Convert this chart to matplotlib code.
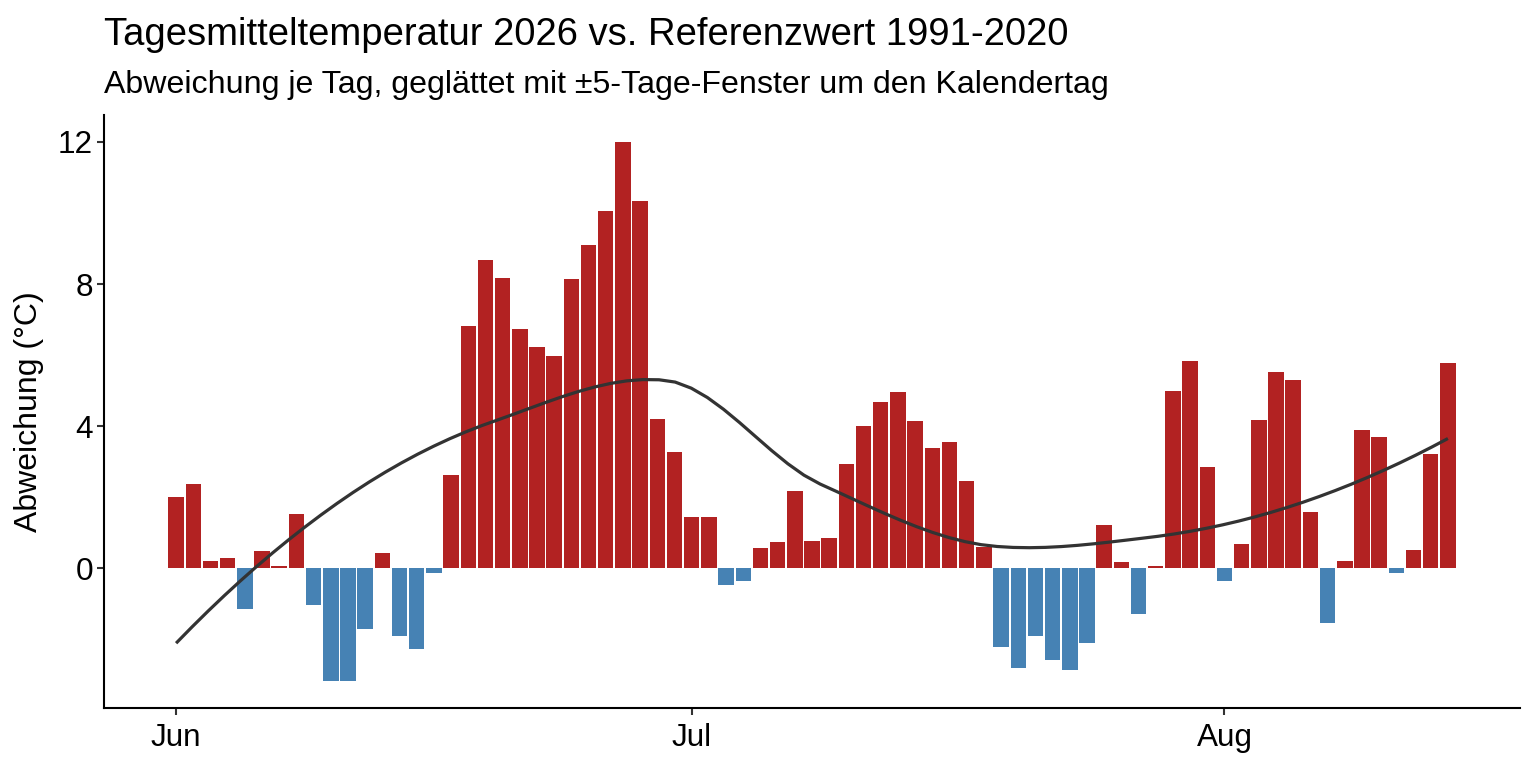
import numpy as np
import pandas as pd
import matplotlib
matplotlib.use("Agg")
import matplotlib.pyplot as plt
import matplotlib.dates as mdates

# ---- data ----
start_date = "2026-06-01"
anomaly_jun = [2.0, 2.36, 0.20, 0.28, -1.15, 0.48, 0.05, 1.52, -1.03, -3.18,
               -3.18, -1.71, 0.43, -1.91, -2.27, -0.14, 2.61, 6.81, 8.68, 8.17,
               6.73, 6.22, 5.97, 8.14, 9.09, 10.05, 12.0, 10.33, 4.20, 3.26]
anomaly_jul = [1.44, 1.44, -0.48, -0.36, 0.56, 0.73, 2.17, 0.76, 0.84, 2.93,
               4.0, 4.68, 4.96, 4.14, 3.38, 3.55, 2.45, 0.6, -2.22, -2.80,
               -1.91, -2.58, -2.86, -2.10, 1.21, 0.17, -1.28, 0.05, 4.98, 5.83,
               2.84]
anomaly_aug = [-0.36, 0.68, 4.17, 5.52, 5.29, 1.57, -1.55, 0.20, 3.89, 3.69,
               -0.14, 0.51, 3.21, 5.77]
y_ticks = [0, 4, 8, 12]

title = "Tagesmitteltemperatur 2026 vs. Referenzwert 1991-2020"
subtitle = "Abweichung je Tag, geglättet mit ±5-Tage-Fenster um den Kalendertag"
y_label = "Abweichung (°C)"

values = np.array(anomaly_jun + anomaly_jul + anomaly_aug)
dates = pd.date_range(start_date, periods=len(values), freq="D")
xnum = mdates.date2num(dates)


# ---- loess smoother (degree 2, span 0.75, kd-tree + Hermite interpolation) ----
def local_fit(x, y, x0, q):
    d = np.abs(x - x0)
    h = np.sort(d)[q - 1]
    w = np.clip(1 - (d / h) ** 3, 0, None) ** 3
    X = np.vstack([np.ones(len(x)), x - x0, (x - x0) ** 2]).T
    sw = np.sqrt(w)
    beta = np.linalg.lstsq(X * sw[:, None], y * sw, rcond=None)[0]
    return beta[0], beta[1]


def loess_interp(x, y, xs, span=0.75, cell=0.2):
    n = len(x)
    q = int(np.floor(n * span))
    fc = int(np.floor(n * span * cell))
    xsrt = np.sort(x)
    mu = 0.005 * (xsrt[-1] - xsrt[0])
    verts = {xsrt[0] - mu, xsrt[-1] + mu}

    def split(lo, hi):  # indices inclusive, 0-based
        if hi - lo + 1 <= fc:
            return
        m = (lo + hi) // 2
        verts.add((xsrt[m] + xsrt[m + 1]) / 2)
        split(lo, m)
        split(m + 1, hi)

    split(0, n - 1)
    vx = np.array(sorted(verts))
    vv = np.array([local_fit(x, y, v, q) for v in vx])
    out = np.empty(len(xs))
    for i, t in enumerate(xs):
        j = min(max(np.searchsorted(vx, t) - 1, 0), len(vx) - 2)
        x0, x1 = vx[j], vx[j + 1]
        hh = x1 - x0
        s = (t - x0) / hh
        f0, d0 = vv[j]
        f1, d1 = vv[j + 1]
        h00 = 2 * s**3 - 3 * s**2 + 1
        h10 = s**3 - 2 * s**2 + s
        h01 = -2 * s**3 + 3 * s**2
        h11 = s**3 - s**2
        out[i] = h00 * f0 + h10 * hh * d0 + h01 * f1 + h11 * hh * d1
    return out


xs = np.linspace(xnum[0], xnum[-1], 80)
ys = loess_interp(xnum - xnum[0], values, xs - xnum[0])

# ---- plot ----
plt.rcParams['font.family'] = ['Liberation Sans', 'DejaVu Sans']
W, H = 1536, 768
fig = plt.figure(figsize=(W / 100, H / 100), dpi=100)
ax = fig.add_axes([104 / W, (H - 708) / H, (1520 - 104) / W, (708 - 115) / H])

colors = np.where(values >= 0, "#B22222", "#4682B4")
ax.bar(dates, values, width=0.9, color=colors, linewidth=0)
ax.plot(xs, ys, color="#333333", linewidth=2.3, solid_capstyle="butt")

span = (xnum[-1] + 0.45) - (xnum[0] - 0.45)
ax.set_xlim(xnum[0] - 0.45 - 0.05 * span, xnum[-1] + 0.45 + 0.05 * span)
lo = min(values.min(), ys.min())
hi = max(values.max(), ys.max())
ax.set_ylim(lo - 0.05 * (hi - lo), hi + 0.05 * (hi - lo))

ax.xaxis.set_major_locator(mdates.MonthLocator())
ax.xaxis.set_major_formatter(mdates.DateFormatter("%b"))
ax.set_yticks(y_ticks)

for s in ["top", "right"]:
    ax.spines[s].set_visible(False)
for s in ["left", "bottom"]:
    ax.spines[s].set_linewidth(1.5)
    ax.spines[s].set_color("black")

ax.tick_params(axis="both", length=5, width=1.5, color="#333333",
               labelsize=22.7, labelcolor="black")
ax.tick_params(axis="x", pad=6)
ax.tick_params(axis="y", pad=3)

ax.set_ylabel(y_label, fontsize=23, labelpad=10)

fig.text(104 / W, 1 - 45 / H, title, fontsize=27.5, ha="left", va="baseline")
fig.text(104 / W, 1 - 93 / H, subtitle, fontsize=23.1, ha="left", va="baseline")

fig.savefig("out.png", dpi=100, facecolor="white")
